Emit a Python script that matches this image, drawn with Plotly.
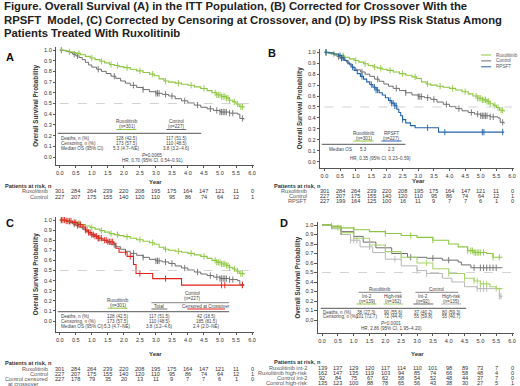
import plotly.graph_objects as go

W, H = 520, 386
FONT = "Liberation Sans, Arial, sans-serif"

# ---------------- data ----------------
risk_times = [0.0, 0.5, 1.0, 1.5, 2.0, 2.5, 3.0, 3.5, 4.0, 4.5, 5.0, 5.5, 6.0]

# Ruxolitinib (ITT)
rux_t = [0, 0.1, 0.2, 0.3, 0.4, 0.5, 0.65, 0.8, 0.95, 1.1, 1.25, 1.4, 1.55, 1.7, 1.85, 2.0, 2.2, 2.4,
         2.6, 2.8, 2.95, 3.1, 3.25, 3.4, 3.6, 3.8, 4.0, 4.2, 4.4, 4.6, 4.75, 4.9, 5.05, 5.2, 5.3, 5.4,
         5.5, 5.6, 5.75]
rux_s = [1.0, 0.997, 0.99, 0.983, 0.977, 0.968, 0.955, 0.94, 0.925, 0.91, 0.895, 0.88, 0.865, 0.855,
         0.845, 0.835, 0.82, 0.805, 0.79, 0.775, 0.76, 0.73, 0.71, 0.70, 0.69, 0.68, 0.67, 0.655, 0.64,
         0.62, 0.60, 0.58, 0.565, 0.55, 0.53, 0.515, 0.495, 0.47, 0.46]
rux_cens = [0.05, 0.3, 0.6, 1.0, 1.3, 1.6, 1.8, 2.1, 2.5, 2.9, 3.3, 3.7, 4.1, 4.5, 4.85, 4.9, 4.95,
            5.0, 5.05, 5.1, 5.15, 5.2, 5.25, 5.3, 5.45, 5.55, 5.65, 5.7]

# Control (ITT)
ctrl_t = [0, 0.1, 0.2, 0.3, 0.4, 0.5, 0.6, 0.7, 0.8, 0.9, 1.0, 1.15, 1.3, 1.45, 1.6, 1.75, 1.9, 2.05,
          2.2, 2.4, 2.6, 2.8, 3.0, 3.2, 3.4, 3.6, 3.8, 4.0, 4.2, 4.4, 4.6, 4.8, 5.0, 5.3, 5.55, 5.62, 5.75]
ctrl_s = [1.0, 0.995, 0.985, 0.975, 0.96, 0.945, 0.93, 0.91, 0.885, 0.86, 0.84, 0.82, 0.80, 0.78,
          0.755, 0.735, 0.71, 0.69, 0.67, 0.65, 0.63, 0.61, 0.595, 0.585, 0.57, 0.545, 0.525, 0.505,
          0.485, 0.465, 0.45, 0.435, 0.42, 0.41, 0.40, 0.36, 0.35]
ctrl_cens = [0.05, 0.45, 0.55, 1.2, 1.7, 2.3, 2.6, 3.0, 3.05, 3.1, 3.3, 3.5, 3.9, 4.3, 4.7, 4.9, 5.0,
             5.05, 5.1, 5.15, 5.2, 5.3, 5.4, 5.7]

# RPSFT-corrected control
rpsft_t = [0, 0.15, 0.3, 0.45, 0.55, 0.65, 0.75, 0.85, 0.95, 1.05, 1.15, 1.25, 1.35, 1.45, 1.55, 1.65,
           1.75, 1.85, 1.95, 2.05, 2.15, 2.25, 2.32, 2.38, 2.44, 2.5, 2.6, 2.75, 2.9, 3.65, 5.75]
rpsft_s = [1.0, 0.995, 0.985, 0.97, 0.95, 0.925, 0.895, 0.865, 0.835, 0.805, 0.78, 0.755, 0.73, 0.705,
           0.68, 0.655, 0.63, 0.61, 0.585, 0.56, 0.535, 0.51, 0.48, 0.45, 0.42, 0.385, 0.355, 0.33,
           0.31, 0.27, 0.27]
rpsft_cens = [0.05, 0.5, 0.55, 0.6, 0.9, 1.2, 1.5, 1.6, 1.65, 1.7, 2.1, 2.15, 2.2, 2.25, 2.3, 2.5,
              3.3, 3.85, 5.05, 5.1, 5.7]

# Control censored at crossover
ccx_t = [0, 0.2, 0.4, 0.55, 0.7, 0.8, 0.9, 1.0, 1.1, 1.2, 1.35, 1.5, 1.68, 1.75, 1.85, 2.1, 2.3,
         2.38, 2.9, 3.8, 5.75]
ccx_s = [1.0, 0.99, 0.975, 0.955, 0.93, 0.9, 0.875, 0.855, 0.84, 0.82, 0.8, 0.785, 0.77, 0.72, 0.68,
         0.64, 0.56, 0.47, 0.42, 0.355, 0.355]
ccx_cens = [0.05, 0.1, 0.15, 0.2, 0.25, 0.3, 0.35, 0.45, 0.5, 0.55, 0.6, 0.65, 0.75, 0.8, 0.85, 0.9,
            0.95, 1.0, 1.05, 1.1, 1.15, 1.2, 1.25, 1.3, 1.4, 1.45, 1.5, 1.55, 1.6, 1.65, 2.05, 2.2,
            2.5, 3.3, 5.05, 5.15, 5.7]

# IPSS subgroups
rint2_t = [0, 0.3, 0.6, 1.0, 1.5, 2.0, 2.5, 3.0, 3.5, 4.0, 4.3, 4.6, 4.8, 5.2, 5.4, 5.7]
rint2_s = [1.0, 0.99, 0.97, 0.95, 0.93, 0.91, 0.89, 0.87, 0.84, 0.80, 0.77, 0.73, 0.71, 0.70, 0.66, 0.66]
rint2_cens = [0.3, 1.0, 2.0, 2.8, 3.5, 4.6, 4.7, 4.75, 4.8, 4.85, 4.9, 4.95, 5.0, 5.1, 5.4, 5.6]

rhr_t = [0, 0.3, 0.6, 1.0, 1.5, 2.0, 2.5, 3.0, 3.5, 4.0, 4.5, 4.8, 5.0, 5.3, 5.5, 5.7]
rhr_s = [1.0, 0.97, 0.92, 0.86, 0.79, 0.72, 0.66, 0.60, 0.54, 0.49, 0.44, 0.41, 0.38, 0.35, 0.33, 0.33]
rhr_cens = [0.5, 1.5, 2.5, 3.3, 4.0, 4.5, 4.8, 4.9, 5.0, 5.1, 5.2, 5.5]

cint2_t = [0, 0.3, 0.6, 1.0, 1.3, 1.7, 2.2, 2.7, 3.3, 3.8, 4.3, 4.4, 4.7, 5.7]
cint2_s = [1.0, 0.98, 0.93, 0.88, 0.82, 0.76, 0.70, 0.66, 0.65, 0.63, 0.61, 0.58, 0.55, 0.55]
cint2_cens = [0.6, 1.5, 2.0, 2.8, 3.5, 4.0, 4.8, 5.0, 5.1, 5.2, 5.3, 5.4, 5.5]

chr_t = [0, 0.3, 0.6, 0.9, 1.2, 1.6, 2.0, 2.5, 3.0, 3.3, 3.8, 4.1, 4.5, 4.9, 5.5, 5.6, 5.7]
chr_s = [1.0, 0.96, 0.90, 0.84, 0.77, 0.71, 0.64, 0.57, 0.52, 0.49, 0.44, 0.40, 0.35, 0.33, 0.33, 0.25, 0.25]
chr_cens = [0.9, 1.0, 1.1, 1.5, 2.3, 3.0, 3.3, 4.9, 5.0, 5.1, 5.2, 5.6, 5.65]

# Patients at risk
risk_rux = [301, 284, 264, 239, 220, 208, 195, 175, 164, 147, 121, 11, 0]
risk_ctrl = [227, 207, 175, 155, 140, 120, 110, 95, 86, 74, 64, 12, 1]
risk_rpsft = [227, 199, 164, 125, 100, 16, 11, 9, 7, 7, 6, 1, 0]
risk_ccx = [227, 178, 79, 35, 20, 13, 11, 9, 7, 7, 6, 1, 0]
risk_rint2 = [139, 137, 129, 120, 117, 114, 110, 101, 98, 89, 73, 7, 0]
risk_rhr = [162, 147, 135, 119, 103, 94, 85, 74, 66, 58, 48, 4, 0]
risk_cint2 = [92, 84, 75, 67, 62, 58, 54, 52, 48, 44, 37, 7, 0]
risk_chr = [135, 123, 100, 88, 78, 65, 56, 43, 38, 30, 27, 5, 1]

# Text
title_lines = [
    "Figure. Overall Survival (A) in the ITT Population, (B) Corrected for Crossover With the",
    "RPSFT  Model, (C) Corrected by Censoring at Crossover, and (D) by IPSS Risk Status Among",
    "Patients Treated With Ruxolitinib",
]
row_labels = ["Deaths, n (%)", "Censoring, n (%)", "Median OS (95% CI)"]
A_rux_vals = ["128 (42.5)", "173 (57.5)", "5.3 (4.7–NE)"]
A_ctrl_vals = ["117 (51.5)", "110 (48.5)", "3.8 (3.2–4.6)"]
A_stats = ["<i>P</i>=0.0065", "HR, 0.70 (95% CI, 0.54–0.91)"]
B_vals = ["5.3", "2.3"]
B_stats = "HR, 0.35 (95% CI, 0.23–0.59)"
C_cens_vals = ["42 (18.5)", "185 (81.5)", "2.4 (2.0–NE)"]
D_vals = [["38 (27.3)", "101 (72.7)"], ["90 (55.6)", "72 (44.4)"],
          ["37 (40.2)", "55 (59.8)"], ["80 (59.3)", "55 (40.7)"]]
D_heads = ["Int-2", "High-risk", "Int-2", "High-risk"]
D_ns = ["(n=139)", "(n=162)", "(n=92)", "(n=135)"]
D_stats = ["<i>P</i>&lt;0.0001", "HR, 2.86 (95% CI, 1.95–4.20)"]

GREEN = "#8dc63f"
GREEN2 = "#a9d26a"
GRAY = "#6e6e6e"
LGRAY = "#b5b5b5"
BLUE = "#2563a8"
RED = "#e2231a"
TXT = "#333333"

# ---------------- helpers ----------------
def surv_at(ts, ss, t):
    v = ss[0]
    for ti, si in zip(ts, ss):
        if ti <= t:
            v = si
    return v

annotations = []
shapes = []

def ann(text, x, y, size=4.6, color=TXT, bold=False, xanchor="center"):
    if bold:
        text = "<b>" + text + "</b>"
    annotations.append(dict(xref="paper", yref="paper", x=x / W, y=1 - y / H, text=text,
                            showarrow=False, xanchor=xanchor, yanchor="middle",
                            font=dict(family=FONT, size=size, color=color)))

def hline(x0, x1, y, color="#777777", width=0.8):
    shapes.append(dict(type="line", xref="paper", yref="paper", x0=x0 / W, x1=x1 / W,
                       y0=1 - y / H, y1=1 - y / H, line=dict(color=color, width=width)))

fig = go.Figure()

# panel geometry (pixels): x of 0.0, x of 6.0, y of 1.0, y of 0.0, axis-bottom y, y-axis x
panels = {
    "A": dict(ax="", px0=60, px6=253, py1=50, py0=157, pyb=165, pxa=56.5),
    "B": dict(ax="2", px0=325.7, px6=514, py1=52.3, py0=161.7, pyb=167.5, pxa=321.5),
    "C": dict(ax="3", px0=60, px6=253, py1=220, py0=321, pyb=331.5, pxa=56.5),
    "D": dict(ax="4", px0=323.3, px6=514, py1=225, py0=320, pyb=333, pxa=319),
}

layout_axes = {}
for key, p in panels.items():
    perx = (p["px6"] - p["px0"]) / 6
    xlo = (p["pxa"] - p["px0"]) / perx
    xhi = 6.06
    pery = p["py0"] - p["py1"]
    ylo = -(p["pyb"] - p["py0"]) / pery
    yhi = 1.03
    xd = [p["pxa"] / W, (p["px0"] + xhi * perx) / W]
    yd = [1 - p["pyb"] / H, 1 - (p["py0"] - yhi * pery) / H]
    p["perx"] = perx
    ax = p["ax"]
    layout_axes["xaxis" + ax] = dict(
        domain=xd, range=[xlo, xhi], anchor="y" + ax, tickvals=risk_times,
        ticktext=["%.1f" % v for v in risk_times], showline=True, linecolor="#555",
        linewidth=0.8, ticks="outside", ticklen=2.5, tickcolor="#555", tickwidth=0.8,
        showgrid=False, zeroline=False, tickfont=dict(family=FONT, size=5.6, color=TXT),
        fixedrange=True)
    layout_axes["yaxis" + ax] = dict(
        domain=yd, range=[ylo, yhi], anchor="x" + ax, tickvals=[i / 10 for i in range(11)],
        ticktext=["%.1f" % (i / 10) for i in range(11)], showline=True, linecolor="#555",
        linewidth=0.8, ticks="outside", ticklen=2.5, tickcolor="#555", tickwidth=0.8,
        showgrid=False, zeroline=False, tickfont=dict(family=FONT, size=5.6, color=TXT),
        title=dict(text="<b>Overall Survival Probability</b>", standoff=4,
                   font=dict(family=FONT, size=6.3, color=TXT)),
        fixedrange=True)
    # reference dashed line at 0.5
    shapes.append(dict(type="line", xref="x" + ax, yref="y" + ax, x0=0, x1=6, y0=0.5, y1=0.5,
                       line=dict(color="#c8c8c8", width=0.8, dash="dash")))


def add_curve(ax, ts, ss, cens, color, width=1.0):
    xa = "x" + ax
    ya = "y" + ax
    fig.add_trace(go.Scatter(x=ts, y=ss, mode="lines", line=dict(color=color, width=width, shape="hv"),
                             xaxis=xa, yaxis=ya, showlegend=False, hoverinfo="skip"))
    fig.add_trace(go.Scatter(x=cens, y=[surv_at(ts, ss, c) for c in cens], mode="markers",
                             marker=dict(symbol="line-ns", size=4.5, line=dict(color=color, width=0.9)),
                             xaxis=xa, yaxis=ya, showlegend=False, hoverinfo="skip"))

# Panel A
add_curve("", ctrl_t, ctrl_s, ctrl_cens, GRAY)
add_curve("", rux_t, rux_s, rux_cens, GREEN, 1.1)
# Panel B
add_curve("2", ctrl_t, ctrl_s, ctrl_cens, GRAY)
add_curve("2", rux_t, rux_s, rux_cens, GREEN, 1.1)
add_curve("2", rpsft_t, rpsft_s, rpsft_cens, BLUE, 1.1)
# Panel C
add_curve("3", ctrl_t, ctrl_s, ctrl_cens, GRAY)
add_curve("3", rux_t, rux_s, rux_cens, GREEN, 1.1)
add_curve("3", ccx_t, ccx_s, ccx_cens, RED, 1.1)
# Panel D
add_curve("4", chr_t, chr_s, chr_cens, LGRAY)
add_curve("4", cint2_t, cint2_s, cint2_cens, GRAY)
add_curve("4", rhr_t, rhr_s, rhr_cens, GREEN2, 1.1)
add_curve("4", rint2_t, rint2_s, rint2_cens, GREEN, 1.1)

# ---------------- title & panel letters ----------------
for i, line in enumerate(title_lines):
    ann(line, 2, 6.5 + 13.5 * i, size=11.3, color="#222", bold=True, xanchor="left")
ann("A", 10, 57, size=11, color="#111", bold=True)
ann("B", 273, 53, size=11, color="#111", bold=True)
ann("C", 10, 223, size=11, color="#111", bold=True)
ann("D", 285, 223, size=11, color="#111", bold=True)

# ---------------- risk tables ----------------
def risk_table(ax, rows, labels, year_y, head_y, row_ys, label_x):
    year_x = panels["ABCD"[["", "2", "3", "4"].index(ax)]]
    ann("Year", year_x["px0"] + 3 * year_x["perx"], year_y, size=6, bold=True)
    ann("Patients at risk, n", label_x - 47 if label_x < 100 else label_x - 37, head_y, size=5.6,
        bold=True, xanchor="left")
    for vals, lab, ry in zip(rows, labels, row_ys):
        if lab is not None:
            ann(lab, label_x, ry, size=5.6, color="#555", xanchor="right")
        for t, v in zip(risk_times, vals):
            annotations.append(dict(xref="x" + ax, yref="paper", x=t, y=1 - ry / H, text=str(v),
                                    showarrow=False, xanchor="center", yanchor="middle",
                                    font=dict(family=FONT, size=5.6, color=TXT)))

risk_table("", [risk_rux, risk_ctrl], ["Ruxolitinib", "Control"], 181.5, 186, [191, 196.7], 50)
risk_table("2", [risk_rux, risk_ctrl, risk_rpsft], ["Ruxolitinib", "Control", "RPSFT"], 181, 186,
           [191, 196, 201], 310)
risk_table("3", [risk_rux, risk_ctrl, risk_ccx], ["Ruxolitinib", "Control", "Control censored"],
           354, 363, [369, 374, 379.3], 50)
ann("at crossover", 24, 384.3, size=5.6, color="#555")
risk_table("4", [risk_rint2, risk_rhr, risk_cint2, risk_chr],
           ["Ruxolitinib int-2", "Ruxolitinib high-risk", "Control int-2", "Control high-risk"],
           354, 362, [367.7, 372.7, 378, 383.3], 310)

# ---------------- in-plot tables ----------------
# A
ann("Ruxolitinib", 127, 121.7, color="#444")
ann("(n=301)", 127, 126.7, color="#444")
hline(117, 137, 129.5, GREEN, 1)
ann("Control", 177, 121.7, color="#444")
ann("(n=227)", 177, 126.7, color="#444")
hline(167, 187, 129.5, GRAY, 1)
hline(58, 202, 133.3, "#777", 1.3)
for i, ry in enumerate([138.3, 143.7, 148.7]):
    ann(row_labels[i], 59, ry, xanchor="left", color="#444")
    ann(A_rux_vals[i], 127, ry, color="#444")
    ann(A_ctrl_vals[i], 177, ry, color="#444")
ann(A_stats[0], 153, 155, color="#444")
ann(A_stats[1], 153, 160.8, color="#444")

# B
ann("Ruxolitinib", 365, 133.3, color="#444")
ann("(n=301)", 365, 138.3, color="#444")
hline(355, 375, 141, GREEN, 1)
ann("RPSFT", 393, 133.3, color="#444")
ann("(n=227)", 393, 138.3, color="#444")
hline(383, 403, 141, BLUE, 1)
hline(323, 407, 144.3, "#777", 1.3)
ann("Median OS", 328, 149, xanchor="left", color="#444")
ann(B_vals[0], 365, 149, color="#444")
ann(B_vals[1], 393, 149, color="#444")
ann(B_stats, 382, 158.3, color="#444")
# B legend
for i, (lab, col) in enumerate(zip(["Ruxolitinib", "Control", "RPSFT"], [GREEN, GRAY, BLUE])):
    ly = 55 + 5.9 * i
    hline(483, 493, ly, col, 1)
    ann(lab, 496, ly, size=4.6, color="#555", xanchor="left")

# C
ann("Ruxolitinib", 118, 300, color="#444")
ann("(n=301)", 118, 305.7, color="#444")
hline(108, 128, 308.2, GREEN, 1)
ann("Control", 193, 293.3, color="#444")
ann("(n=227)", 193, 298.3, color="#444")
hline(152, 230, 302.7, "#777", 0.9)
ann("Total", 160, 306.5, color="#444")
hline(152, 168, 309, GRAY, 1)
ann("Censored at Crossover", 207, 306.5, color="#444")
hline(188, 226, 309, RED, 1)
hline(58, 230, 311.7, "#777", 1.3)
for i, ry in enumerate([316, 321, 326]):
    ann(row_labels[i], 59, ry, xanchor="left", color="#444")
    ann(A_rux_vals[i], 118, ry, color="#444")
    ann(A_ctrl_vals[i], 160, ry, color="#444")
    ann(C_cens_vals[i], 207, ry, color="#444")

# D
ann("Ruxolitinib", 381, 289.8, color="#444")
hline(360, 403, 292.3, "#777", 0.9)
ann("Control", 438, 289.8, color="#444")
hline(417, 460, 292.3, "#777", 0.9)
d_cols = [368, 395, 425, 453]
d_colors = [GREEN, GREEN2, GRAY, LGRAY]
for j in range(4):
    ann(D_heads[j], d_cols[j], 296.7, color="#444")
    ann(D_ns[j], d_cols[j], 301.5, color="#444")
    hline(d_cols[j] - 10, d_cols[j] + 10, 304, d_colors[j], 1)
    ann(D_vals[j][0], d_cols[j], 312.3, color="#444")
    ann(D_vals[j][1], d_cols[j], 316.8, color="#444")
hline(322, 468, 308.3, "#777", 1.3)
ann(row_labels[0], 322, 312.3, xanchor="left", color="#444")
ann(row_labels[1], 322, 316.8, xanchor="left", color="#444")
ann(D_stats[0], 393, 323.3, color="#444")
ann(D_stats[1], 393, 328.3, color="#444")

fig.update_layout(
    width=W, height=H, margin=dict(l=0, r=0, t=0, b=0),
    paper_bgcolor="white", plot_bgcolor="white", showlegend=False,
    annotations=annotations, shapes=shapes, **layout_axes,
    font=dict(family=FONT),
)
fig.write_html("out.html", config={"displayModeBar": False},
               post_script="document.body.style.margin='0';document.body.style.overflow='hidden';")
